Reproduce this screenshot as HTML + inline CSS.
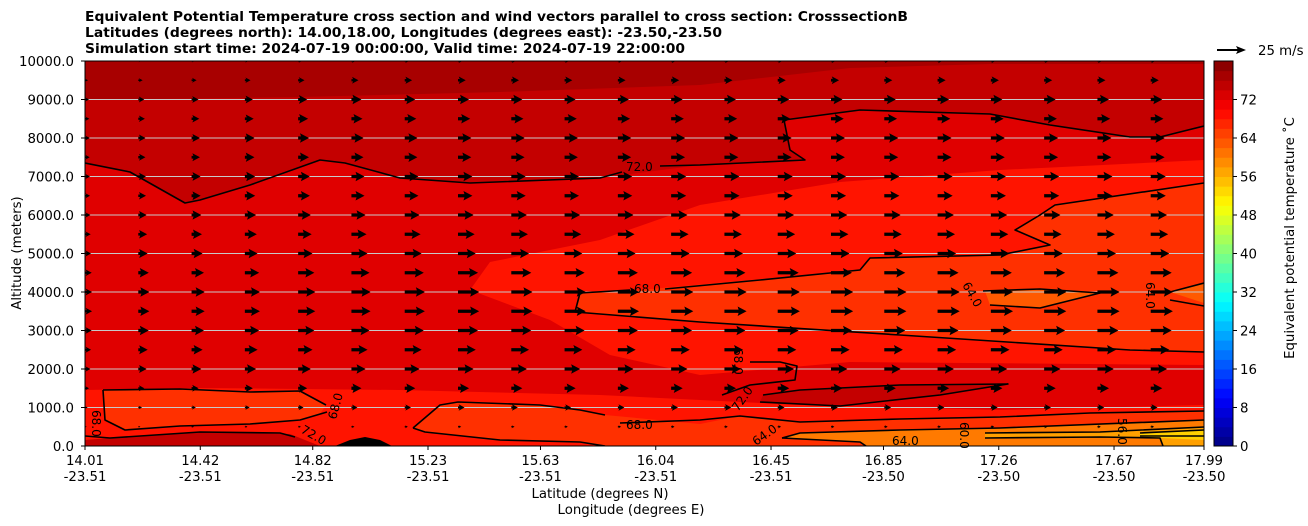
<!DOCTYPE html>
<html><head><meta charset="utf-8"><style>
html,body{margin:0;padding:0;background:#fff;}
svg{display:block;font-family:"DejaVu Sans","Liberation Sans",sans-serif;}
</style></head><body>
<svg id="chart" width="1308" height="526" viewBox="0 0 1308 526" xmlns="http://www.w3.org/2000/svg">
<g font-size="13" font-weight="bold" fill="#000">
<text x="85" y="21" textLength="823" lengthAdjust="spacingAndGlyphs">Equivalent Potential Temperature cross section and wind vectors parallel to cross section: CrosssectionB</text>
<text x="85" y="37" textLength="637" lengthAdjust="spacingAndGlyphs">Latitudes (degrees north): 14.00,18.00, Longitudes (degrees east): -23.50,-23.50</text>
<text x="85" y="53" textLength="600" lengthAdjust="spacingAndGlyphs">Simulation start time: 2024-07-19 00:00:00, Valid time: 2024-07-19 22:00:00</text>
</g>
<defs><clipPath id="pc"><rect x="85" y="61" width="1119" height="385"/></clipPath></defs>
<g id="fills" clip-path="url(#pc)">
<rect x="85" y="61" width="1119" height="385" fill="#ff1400"/>
<polygon fill="#e00000" points="85,61 1204,61 1204,160 1000,170 840,182 700,205 600,240 490,262 470,290 550,320 610,355 700,375 850,362 1204,365 1204,405 1000,410 800,405 600,395 400,390 200,388 85,390"/>
<polygon fill="#c40000" points="85,61 1204,61 1204,126 1160,137 1130,137 1050,125 990,114 860,110 784,120 790,150 805,160 700,165 600,178 470,183 400,178 345,163 320,160 250,185 200,200 185,203 130,172 85,163"/>
<polygon fill="#a80000" points="85,61 1204,61 1204,64 990,64 850,68 700,85 500,92 300,97 85,100"/>
<polygon fill="#ff3000" points="575,312 580,293 640,290 860,270 870,258 1000,255 1050,245 1015,230 1040,215 1055,205 1204,183 1204,352 1130,350 900,335 700,322"/>
<polygon fill="#ff5a00" points="985,291 1040,289 1100,293 1040,308 990,305"/>
<polygon fill="#ff5a00" points="1170,292 1204,283 1204,303"/>
<polygon fill="#c40000" points="763,395 800,390 900,385 1008,384 940,395 840,406 760,402"/>
<polygon fill="#ff3000" points="103,390 180,389 250,392 300,391 326,405 320,414 300,420 250,424 180,426 125,430 105,420"/>
<polygon fill="#c40000" points="85,440 110,438 200,432 290,434 320,446 85,446"/>
<polygon fill="#000" points="335,446 350,440 365,437 380,440 392,446"/>
<polygon fill="#ff3000" points="413,428 440,405 458,402 540,405 580,410 605,415 700,424 740,416 800,422 900,419 1000,417 1090,413 1204,411 1204,446 605,446 580,442 500,440 425,432"/>
<polygon fill="#ff7a00" points="782,438 800,433 900,430 1000,428 1204,420 1204,446 866,446 860,442"/>
<polygon fill="#ffa000" points="985,433 1100,432 1204,427 1204,446 1163,446 1160,438 1100,437 985,438"/>
<polygon fill="#ffd000" points="1140,433 1204,430 1204,440 1140,437"/>
</g>
<g id="grid"></g>
<g id="contours" clip-path="url(#pc)" fill="none" stroke="#000" stroke-width="1.6" stroke-linejoin="round">
<polyline points="85,163 130,172 185,203 200,200 250,185 320,160 345,163 400,178 470,183 600,178 622,172"/>
<polyline points="660,166 700,165 805,160 790,150 784,120 860,110 990,114 1050,125 1130,137 1160,137 1204,126"/>
<polyline points="1204,183 1055,205 1040,215 1015,230 1050,245 1000,255 870,258 860,270 760,280 665,289"/>
<polyline points="630,290 580,293 575,312 700,322 900,335 1130,350 1204,352"/>
<polyline points="983,291 1040,289 1100,293 1040,308 990,305"/>
<polyline points="1170,292 1204,283"/><polyline points="1170,300 1204,306"/>
<polyline points="763,395 800,390 900,385 1008,384 940,395 840,406 760,402"/>
<polyline points="722,395 750,385 795,380 797,366 780,362 750,362"/>
<polyline points="103,390 180,389 250,392 300,391 326,405"/>
<polyline points="327,412 300,420 250,424 180,426 125,430 105,420 103,390"/>
<polyline points="85,436 110,438 200,432 280,433 295,437"/>
<polyline points="413,428 440,405 458,402 540,405 580,410 605,415"/>
<polyline points="413,428 425,432 500,440 580,442 605,446"/>
<polyline points="620,423 700,420 740,416 800,422 900,419 1000,417 1090,413 1204,411"/>
<polyline points="782,438 800,433 900,430 1000,428 1204,420"/>
<polyline points="782,438 860,442 866,446"/>
<polyline points="985,433 1100,432 1204,427"/><polyline points="985,438 1100,437 1160,438 1163,446"/>
<polyline points="1140,433 1204,430"/><polyline points="1140,436 1204,436"/>
</g>
<g font-size="12" fill="#000">
<text x="626" y="171">72.0</text>
<text x="634" y="293">68.0</text>
<text x="626" y="429">68.0</text>
<text x="892" y="445">64.0</text>
<text transform="translate(962,285) rotate(60)">64.0</text>
<text transform="translate(1146,282) rotate(90)">64.0</text>
<text transform="translate(734,348) rotate(90)">68.0</text>
<text transform="translate(336,420) rotate(-75)">68.0</text>
<text transform="translate(92,410) rotate(90)">68.0</text>
<text transform="translate(300,432) rotate(30)">72.0</text>
<text transform="translate(738,412) rotate(-55)">72.0</text>
<text transform="translate(756,446) rotate(-35)">64.0</text>
<text transform="translate(960,422) rotate(90)">60.0</text>
<text transform="translate(1118,418) rotate(90)">56.0</text>
</g>
<g id="arrows" clip-path="url(#pc)" fill="#000"></g>
<rect x="85" y="61" width="1119" height="385" fill="none" stroke="#000" stroke-width="1"/>
<g id="yaxis" font-size="13.3"></g>
<g id="xaxis" font-size="13.3"></g>
<text transform="translate(21,253) rotate(-90)" text-anchor="middle" font-size="13.3">Altitude (meters)</text>
<text x="600" y="498" text-anchor="middle" font-size="13.3">Latitude (degrees N)</text>
<text x="631" y="514" text-anchor="middle" font-size="13.3">Longitude (degrees E)</text>
<g id="cbar" font-size="13.3"></g>
<text transform="translate(1294,238) rotate(-90)" text-anchor="middle" font-size="13.3">Equivalent potential temperature ˚C</text>
<g>
<line x1="1217" y1="50" x2="1238" y2="50" stroke="#000" stroke-width="2"/>
<polygon points="1246,50 1236,46 1238,50 1236,54" fill="#000"/>
<text x="1258" y="55" font-size="13.3">25 m/s</text>
</g>
</svg>
<script>
const altTicks = [0,1000,2000,3000,4000,5000,6000,7000,8000,9000,10000];
const latLabels = ["14.01","14.42","14.82","15.23","15.63","16.04","16.45","16.85","17.26","17.67","17.99"];
const lonLabels = ["-23.51","-23.51","-23.51","-23.51","-23.51","-23.51","-23.51","-23.50","-23.50","-23.50","-23.50"];
const latPos = [14.01,14.42,14.82,15.23,15.63,16.04,16.45,16.85,17.26,17.67,17.99];
const cbarTicks = [0,8,16,24,32,40,48,56,64,72];
const windAlt = [0,500,1000,1500,2000,2500,3000,3500,4000,4500,5000,5500,6000,6500,7000,7500,8000,8500,9000,9500,10000];
const windSpeed = [0,2,5,9,13,15,17,18,18,17,15,14,13,12,12,11,11,10,9,6,3];
const colFactor = [0.3,0.5,0.6,0.7,0.8,0.9,0.95,1,1,1,1,1.05,1.05,1.05,1.05,1.05,1.05,1.05,1.05,1.05,1.05,1.05];
const NS="http://www.w3.org/2000/svg";
const X0=85,X1=1204,Y0=446,Y1=61;
const xScale=v=>X0+(v-14.01)/(17.99-14.01)*(X1-X0);
const yScale=a=>Y0-a/10000*(Y0-Y1);
const pxPerMs=28/25;
function mk(tag,attrs,parent){const e=document.createElementNS(NS,tag);for(const k in attrs)e.setAttribute(k,attrs[k]);parent.appendChild(e);return e;}
const grid=document.getElementById('grid'),ya=document.getElementById('yaxis'),xa=document.getElementById('xaxis');
altTicks.forEach(a=>{const y=yScale(a);
 if(a>0&&a<10000){const l=mk('line',{x1:X0,x2:X1,y1:y,y2:y,stroke:'#c8c8c8','stroke-width':1},grid);
 
 }
 mk('line',{x1:X0-4,x2:X0,y1:y,y2:y,stroke:'#000'},ya);
 const t=mk('text',{x:X0-11,y:y+5,'text-anchor':'end'},ya);t.textContent=a.toFixed(1);
 
 
});
latPos.forEach((v,i)=>{const x=xScale(v);
 mk('line',{x1:x,x2:x,y1:Y0,y2:Y0+4,stroke:'#000'},xa);
 const t=mk('text',{x:x,y:Y0+19,'text-anchor':'middle'},xa);t.textContent=latLabels[i];
 
 
 const t2=mk('text',{x:x,y:Y0+35,'text-anchor':'middle'},xa);t2.textContent=lonLabels[i];
 
 
});
const ar=document.getElementById('arrows');
const ncol=colFactor.length;
windAlt.forEach((a,ri)=>{const y=yScale(a);
 colFactor.forEach((f,ci)=>{const x=X0+ci*(X1-X0)/(ncol-1);
  const L=windSpeed[ri]*f*pxPerMs; if(L<=0.5)return;
  const s=Math.min(1,L/9);
  const hl=8*s+1, hw=4.2*s+0.6, sw=1.3*s+0.3;
  const xe=x+L+1;
  const p=mk('polygon',{points:`${x},${y-sw} ${xe-hl+1},${y-sw} ${xe-hl},${y-hw} ${xe},${y} ${xe-hl},${y+hw} ${xe-hl+1},${y+sw} ${x},${y+sw}`},ar);
  
  
 });
});
const cb=document.getElementById('cbar');
const CX=1214,CW=19;
function jet(t){const c=v=>Math.round(255*Math.max(0,Math.min(1,v)));
 return `rgb(${c(1.5-Math.abs(4*t-3))},${c(1.5-Math.abs(4*t-2))},${c(1.5-Math.abs(4*t-1))})`;}
const cy=v=>Y0-v/80*(Y0-Y1);
for(let lv=0;lv<80;lv+=2){const r=mk('rect',{x:CX,y:cy(lv+2),width:CW,height:cy(lv)-cy(lv+2)+0.5,fill:jet((lv+1)/80)},cb);
 
 }
mk('rect',{x:CX,y:Y1,width:CW,height:Y0-Y1,fill:'none',stroke:'#000'},cb);
cbarTicks.forEach(v=>{const y=cy(v);mk('line',{x1:CX+CW,x2:CX+CW+4,y1:y,y2:y,stroke:'#000'},cb);
 const t=mk('text',{x:CX+CW+7,y:y+5},cb);t.textContent=v;
 
 });
</script>
</body></html>
